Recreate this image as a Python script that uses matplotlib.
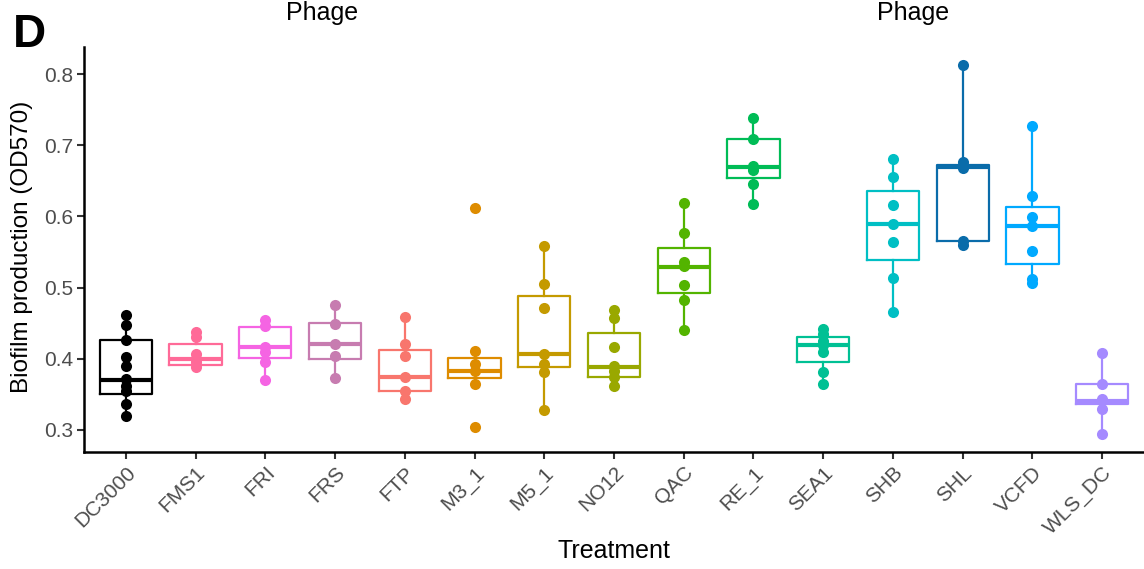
import numpy as np
import matplotlib
matplotlib.use("Agg")
from matplotlib import pyplot as plt
from matplotlib import transforms

plt.rcParams['font.family'] = ['Liberation Sans', 'DejaVu Sans']

treatments = ['DC3000', 'FMS1', 'FRI', 'FRS', 'FTP', 'M3_1', 'M5_1', 'NO12',
              'QAC', 'RE_1', 'SEA1', 'SHB', 'SHL', 'VCFD', 'WLS_DC']

colors = ['#000000', '#FF6A98', '#F564E3', '#C77CB0', '#F8766D', '#DE8C00',
          '#C49A00', '#99A800', '#53B400', '#00BC56', '#00C094', '#00BFC4',
          '#0A6CAA', '#00A9FF', '#A58AFF']

# measured OD570 values per treatment
points = [
    [0.461, 0.447, 0.426, 0.402, 0.390, 0.372, 0.362, 0.355, 0.336, 0.320],
    [0.437, 0.430, 0.407, 0.400, 0.395, 0.388],
    [0.454, 0.446, 0.416, 0.410, 0.395, 0.370],
    [0.476, 0.449, 0.421, 0.404, 0.373],
    [0.459, 0.421, 0.404, 0.374, 0.355, 0.343],
    [0.612, 0.411, 0.393, 0.383, 0.364, 0.304],
    [0.559, 0.505, 0.471, 0.407, 0.393, 0.381, 0.328],
    [0.468, 0.457, 0.417, 0.390, 0.383, 0.374, 0.362],
    [0.619, 0.576, 0.536, 0.530, 0.503, 0.483, 0.441],
    [0.738, 0.709, 0.671, 0.665, 0.646, 0.618],
    [0.442, 0.435, 0.425, 0.419, 0.410, 0.382, 0.365],
    [0.681, 0.655, 0.616, 0.590, 0.564, 0.514, 0.465],
    [0.813, 0.676, 0.668, 0.566, 0.560],
    [0.727, 0.629, 0.599, 0.586, 0.552, 0.512, 0.507],
    [0.408, 0.364, 0.343, 0.329, 0.294],
]

# box statistics
q1 = [0.350, 0.3915, 0.401, 0.399, 0.354, 0.373, 0.388, 0.375, 0.4926, 0.6545,
      0.396, 0.539, 0.565, 0.533, 0.336]
med = [0.370, 0.400, 0.416, 0.421, 0.374, 0.383, 0.407, 0.389, 0.529, 0.6695,
       0.419, 0.590, 0.669, 0.586, 0.341]
q3 = [0.426, 0.421, 0.445, 0.450, 0.412, 0.4005, 0.488, 0.436, 0.5555, 0.7085,
      0.431, 0.636, 0.672, 0.613, 0.365]

fig = plt.figure(figsize=(11.44, 5.69), dpi=100)
ax = fig.add_axes([84 / 1144, 117 / 569, 1 - 84 / 1144, (452 - 47) / 569])

for i, vals in enumerate(points):
    v = np.array(vals)
    iqr = q3[i] - q1[i]
    inside = v[(v >= q1[i] - 1.5 * iqr) & (v <= q3[i] + 1.5 * iqr)]
    st = [dict(q1=q1[i], med=med[i], q3=q3[i],
               whislo=inside.min(), whishi=inside.max(), fliers=[])]
    c = colors[i]
    ax.bxp(st, positions=[i], widths=0.75, showcaps=False, showfliers=False,
           boxprops=dict(color=c, linewidth=1.6),
           whiskerprops=dict(color=c, linewidth=1.6),
           medianprops=dict(color=c, linewidth=3.0, solid_capstyle='butt'),
           manage_ticks=False)
    ax.plot(np.full(len(v), i), v, 'o', color=c, markersize=8,
            markeredgewidth=0, zorder=3)

ax.set_xlim(-0.6, len(treatments) - 0.4)
ax.set_ylim(0.269, 0.838)
ax.set_yticks([0.3, 0.4, 0.5, 0.6, 0.7, 0.8])
ax.set_yticklabels(['0.3', '0.4', '0.5', '0.6', '0.7', '0.8'])
ax.set_xticks(range(len(treatments)))
ax.set_xticklabels(treatments, rotation=45, ha='right', va='top',
                   rotation_mode='anchor')
offset = transforms.ScaledTranslation(6 / 100, 0, fig.dpi_scale_trans)
for lab in ax.get_xticklabels():
    lab.set_transform(lab.get_transform() + offset)

for s in ['top', 'right']:
    ax.spines[s].set_visible(False)
for s in ['left', 'bottom']:
    ax.spines[s].set_linewidth(1.8)
ax.tick_params(axis='both', length=5, width=1.5, color='#333333',
               labelsize=15, labelcolor='#4D4D4D')
ax.tick_params(axis='x', pad=3)
ax.tick_params(axis='y', pad=3)

fig.text(614 / 1144, 1 - 551 / 569, 'Treatment', ha='center', va='center',
         fontsize=18)
fig.text(22 / 1144, 1 - 247 / 569, 'Biofilm production (OD570)', rotation=90,
         ha='center', va='center', fontsize=17.5)
fig.text(322 / 1144, 1 - 13 / 569, 'Phage', ha='center', va='center', fontsize=18)
fig.text(913 / 1144, 1 - 13 / 569, 'Phage', ha='center', va='center', fontsize=18)
fig.text(13 / 1144, 1 - 47 / 569, 'D', ha='left', va='baseline', fontsize=33,
         fontweight='bold')

fig.savefig('out.png', dpi=100)
